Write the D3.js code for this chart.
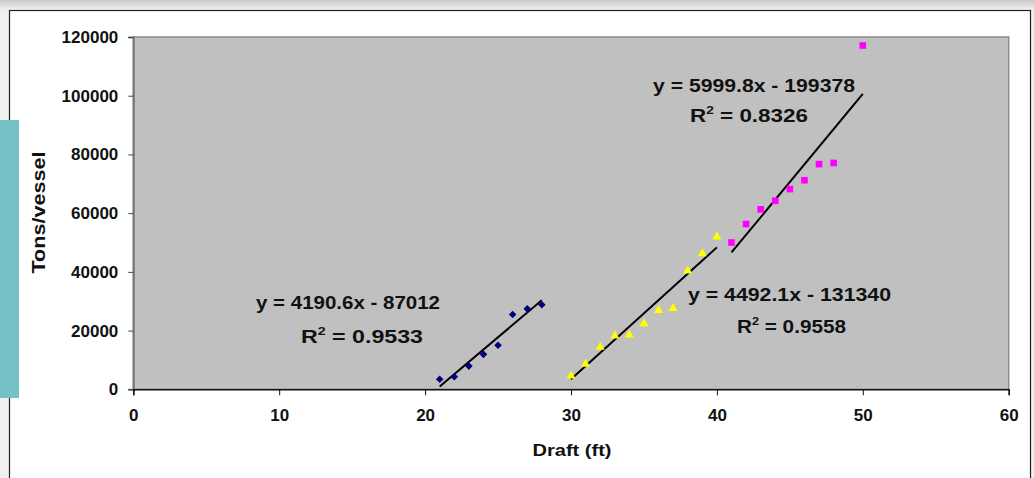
<!DOCTYPE html>
<html>
<head>
<meta charset="utf-8">
<script src="https://cdn.jsdelivr.net/npm/d3@7"></script>
<style>
  body { margin: 0; background: #fff; }
  svg { display: block; font-family: "Liberation Sans", Arial, sans-serif; font-weight: bold; }
</style>
</head>
<body>
<script>
// series data
let blueX = [21, 22, 23, 24, 25, 26, 27, 28];
let blueY = [3400, 4300, 7900, 11900, 15000, 25500, 27400, 28800];
let yellowX = [30, 31, 32, 33, 34, 35, 36, 37, 38, 39, 40];
let yellowY = [4900, 8900, 14700, 18500, 18800, 22700, 27200, 27900, 40600, 46500, 52200];
let magentaX = [41, 42, 43, 44, 45, 46, 47, 48, 50];
let magentaY = [50000, 56300, 61300, 64200, 68200, 71200, 76700, 77100, 117100];

// trend lines (slope, intercept) and labels
let trendSlope = [4190.6, 4492.1, 5999.8];
let trendIntercept = [-87012, -131340, -199378];
let trendR2 = ["0.9533", "0.9558", "0.8326"];

let xTicks = [0, 10, 20, 30, 40, 50, 60];
let yTicks = [0, 20000, 40000, 60000, 80000, 100000, 120000];

let width = 1034, height = 478;
let plot = {left: 133.3, right: 1008.7, top: 37, bottom: 389.3};

let svg = d3.select("body").append("svg")
    .attr("width", width)
    .attr("height", height);

// page decoration: shadow strip, frame, teal tab
let defs = svg.append("defs");
let grad = defs.append("linearGradient").attr("id", "topShade")
    .attr("x1", 0).attr("y1", 0).attr("x2", 0).attr("y2", 1);
grad.append("stop").attr("offset", "0%").attr("stop-color", "#c8c8c8");
grad.append("stop").attr("offset", "100%").attr("stop-color", "#f2f2f2");

svg.append("rect").attr("x", 0).attr("y", 0).attr("width", width).attr("height", height).attr("fill", "#f0f0f0");
svg.append("rect").attr("x", 0).attr("y", 0).attr("width", width).attr("height", 10).attr("fill", "url(#topShade)");
svg.append("rect").attr("x", 9.5).attr("y", 10.5).attr("width", 1021).attr("height", 480)
    .attr("fill", "#fff").attr("stroke", "#222").attr("stroke-width", 1.2);
svg.append("rect").attr("x", 0).attr("y", 120).attr("width", 19).attr("height", 278).attr("fill", "#75c2c6");

// scales
let x = d3.scaleLinear().domain([0, 60]).range([plot.left, plot.right]);
let y = d3.scaleLinear().domain([0, 120000]).range([plot.bottom, plot.top]);

// plot area
svg.append("rect")
    .attr("x", x(0)).attr("y", y(120000))
    .attr("width", x(60) - x(0)).attr("height", y(0) - y(120000))
    .attr("fill", "#c0c0c0").attr("stroke", "#8a8a8a").attr("stroke-width", 1.5);

// axes
let yAxis = svg.append("g")
    .attr("transform", "translate(" + x(0) + ",0)")
    .call(d3.axisLeft(y).tickValues(yTicks).tickSize(5).tickPadding(10).tickFormat(d3.format("d")));
yAxis.select(".domain").attr("stroke", "#777").attr("stroke-width", 2);
yAxis.selectAll(".tick line").attr("stroke", "#444");
yAxis.selectAll("text").attr("font-size", 17).attr("font-weight", "bold").attr("fill", "#111")
    .attr("font-family", "Liberation Sans, Arial, sans-serif");

let xAxis = svg.append("g")
    .attr("transform", "translate(0," + y(0) + ")")
    .call(d3.axisBottom(x).tickValues(xTicks).tickSize(6).tickPadding(14));
xAxis.select(".domain").attr("stroke", "#111").attr("stroke-width", 1.5);
xAxis.selectAll(".tick line").attr("stroke", "#111");
xAxis.selectAll("text").attr("font-size", 17).attr("font-weight", "bold").attr("fill", "#111")
    .attr("font-family", "Liberation Sans, Arial, sans-serif");

// axis titles
svg.append("text")
    .attr("transform", "translate(45,212.5) rotate(-90)")
    .attr("text-anchor", "middle")
    .attr("font-size", 18)
    .attr("textLength", 122).attr("lengthAdjust", "spacingAndGlyphs")
    .attr("fill", "#111")
    .text("Tons/vessel");

svg.append("text")
    .attr("x", 532.5).attr("y", 456)
    .attr("font-size", 17)
    .attr("textLength", 79).attr("lengthAdjust", "spacingAndGlyphs")
    .attr("fill", "#111")
    .text("Draft (ft)");

// trend lines
let series = [
  {xs: blueX, ys: blueY},
  {xs: yellowX, ys: yellowY},
  {xs: magentaX, ys: magentaY}
];
series.forEach((s, i) => {
  let x0 = d3.min(s.xs), x1 = d3.max(s.xs);
  svg.append("line")
      .attr("x1", x(x0)).attr("y1", y(trendSlope[i] * x0 + trendIntercept[i]))
      .attr("x2", x(x1)).attr("y2", y(trendSlope[i] * x1 + trendIntercept[i]))
      .attr("stroke", "#000").attr("stroke-width", 2);
});

// markers
let blue = blueX.map((d, i) => ({x: d, y: blueY[i]}));
let yellow = yellowX.map((d, i) => ({x: d, y: yellowY[i]}));
let magenta = magentaX.map((d, i) => ({x: d, y: magentaY[i]}));

svg.selectAll(".blue").data(blue).enter().append("path")
    .attr("class", "blue")
    .attr("transform", (d) => "translate(" + x(d.x) + "," + y(d.y) + ")")
    .attr("d", "M0,-3.8L3.8,0L0,3.8L-3.8,0Z")
    .attr("fill", "#000080");

svg.selectAll(".yellow").data(yellow).enter().append("path")
    .attr("class", "yellow")
    .attr("transform", (d) => "translate(" + x(d.x) + "," + y(d.y) + ")")
    .attr("d", "M0,-4.5L4.5,3.5L-4.5,3.5Z")
    .attr("fill", "#ffff00");

svg.selectAll(".magenta").data(magenta).enter().append("rect")
    .attr("class", "magenta")
    .attr("x", (d) => x(d.x) - 3.3).attr("y", (d) => y(d.y) - 3.3)
    .attr("width", 6.6).attr("height", 6.6)
    .attr("fill", "#ff00ff");

// equation labels
let labels = [
  {eq: "y = 4190.6x - 87012", x1: 256, w1: 184, b1: 309, rx: 301, rw: 122, b2: 343},
  {eq: "y = 4492.1x - 131340", x1: 688, w1: 203, b1: 301, rx: 737, rw: 109, b2: 333},
  {eq: "y = 5999.8x - 199378", x1: 653, w1: 202, b1: 92, rx: 690, rw: 118, b2: 122}
];
labels.forEach((l, i) => {
  svg.append("text")
      .attr("x", l.x1).attr("y", l.b1)
      .attr("font-size", 18)
      .attr("textLength", l.w1).attr("lengthAdjust", "spacingAndGlyphs")
      .attr("fill", "#111")
      .text(l.eq);
  let t = svg.append("text")
      .attr("x", l.rx).attr("y", l.b2)
      .attr("font-size", 18)
      .attr("textLength", l.rw).attr("lengthAdjust", "spacingAndGlyphs")
      .attr("fill", "#111");
  t.append("tspan").text("R");
  t.append("tspan").attr("font-size", 11).attr("dy", -8).text("2");
  t.append("tspan").attr("dy", 8).text(" = " + trendR2[i]);
});
</script>
</body>
</html>
